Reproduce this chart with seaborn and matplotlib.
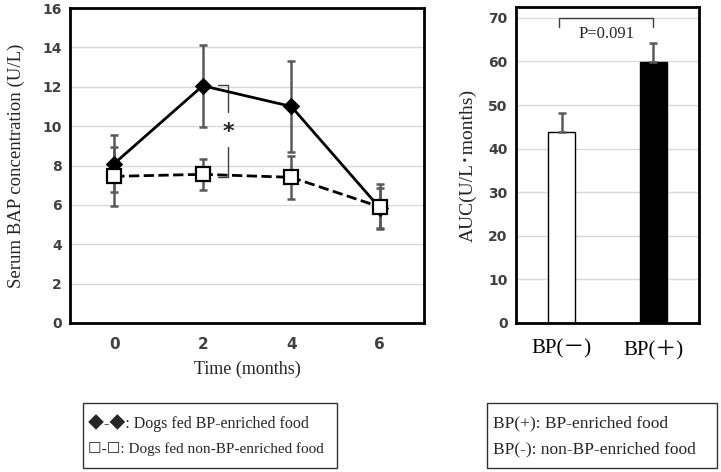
import matplotlib
matplotlib.use("Agg")
import matplotlib.pyplot as plt
import numpy as np
import pandas as pd
import seaborn as sns
from matplotlib.patches import Rectangle

# data
months = [0, 2, 4, 6]
bp_mean = [8.1, 12.05, 11.0, 5.85]
bp_err = [1.45, 2.08, 2.3, 1.0]
non_mean = [7.45, 7.55, 7.4, 5.9]
non_err = [1.5, 0.78, 1.08, 1.15]

groups = ["BP(－)", "BP(＋)"]
auc_mean = [43.8, 59.8]
auc_err = [4.4, 4.4]

sns.set_theme(style="white")
serif = ["Liberation Serif", "Noto Sans CJK JP", "DejaVu Sans"]
serif_sym = ["Liberation Serif", "DejaVu Sans"]


def style_ticks(labels, size=10):
    for lab in labels:
        lab.set_fontfamily("DejaVu Sans")
        lab.set_fontsize(size)
        lab.set_color("#404040")
        lab.set_fontweight("bold")


fig = plt.figure(figsize=(7.21, 4.72), dpi=100)
ax1 = fig.add_axes([70/721, 1-323/472, 354/721, 315/472])
ax2 = fig.add_axes([516/721, 1-323/472, 183/721, 316/472])

# ---- line chart
df = pd.DataFrame({"month": months * 2,
                   "value": bp_mean + non_mean,
                   "group": ["BP"] * 4 + ["non"] * 4})
ax1.errorbar(months, bp_mean, yerr=bp_err, fmt="none", ecolor="#595959",
             elinewidth=1.8, capsize=3, capthick=1.8, zorder=2)
ax1.errorbar(months, non_mean, yerr=non_err, fmt="none", ecolor="#595959",
             elinewidth=1.8, capsize=3, capthick=1.8, zorder=2)
sns.lineplot(data=df[df.group == "BP"], x="month", y="value", ax=ax1,
             color="black", lw=2, marker="D", markersize=8,
             markerfacecolor="black", markeredgecolor="black", zorder=3)
sns.lineplot(data=df[df.group == "non"], x="month", y="value", ax=ax1,
             color="black", lw=2, linestyle="--", marker="s", markersize=10,
             markerfacecolor="white", markeredgecolor="black",
             markeredgewidth=1.6, zorder=4)

ax1.set_xlim(-1, 7)
ax1.set_ylim(0, 16)
ax1.set_yticks(range(0, 17, 2))
ax1.set_xticks(months)
ax1.yaxis.grid(True, color="#d9d9d9", lw=1)
ax1.set_axisbelow(True)
ax1.tick_params(length=0, pad=6)
ax1.tick_params(axis="x", pad=10)
style_ticks(ax1.get_yticklabels())
style_ticks(ax1.get_xticklabels(), 11)
ax1.set_xlabel("Time (months)", family=serif, fontsize=13, labelpad=6)
ax1.set_ylabel("Serum BAP concentration (U/L)", family=serif, fontsize=13.5, labelpad=12)

# significance bracket at month 2
ax1.plot([2.34, 2.57, 2.57], [12.1, 12.1, 10.7], color="#404040", lw=1)
ax1.plot([2.57, 2.57, 2.34], [8.95, 7.4, 7.4], color="#404040", lw=1)
ax1.text(2.57, 9.7, "*", ha="center", va="center", fontsize=16,
         fontweight="bold", family="DejaVu Sans")

# ---- bar chart
bdf = pd.DataFrame({"group": groups, "auc": auc_mean})
sns.barplot(data=bdf, x="group", y="auc", hue="group",
            palette=["white", "black"], edgecolor="black", linewidth=1,
            width=0.3, legend=False, ax=ax2)
ax2.errorbar([0, 1], auc_mean, yerr=[[0, 0], auc_err], fmt="none",
             ecolor="#595959", elinewidth=1.8, capsize=3, capthick=1.8)
ax2.set_xlim(-0.5, 1.5)
ax2.set_ylim(0, 72.5)
ax2.set_yticks(range(0, 71, 10))
ax2.yaxis.grid(True, color="#d9d9d9", lw=1)
ax2.set_axisbelow(True)
ax2.tick_params(length=0, pad=6)
ax2.tick_params(axis="x", pad=12)
style_ticks(ax2.get_yticklabels())
for lab in ax2.get_xticklabels():
    lab.set_fontfamily(serif)
    lab.set_fontsize(15)
    lab.set_color("black")
ax2.set_xlabel("")
ax2.set_ylabel("AUC(U/L･months)", family=serif, fontsize=14, labelpad=8)
ax2.plot([-0.03, -0.03, 1.0, 1.0], [67.9, 70, 70, 67.9], color="#404040", lw=1)
ax2.text(0.49, 66.3, "P=0.091", ha="center", va="center", family=serif, fontsize=12)

for ax in (ax1, ax2):
    for s in ax.spines.values():
        s.set_color("black")
        s.set_linewidth(2)

# ---- text legends below
fig.patches.append(Rectangle((83/721, 1-468/472), 254/721, 65/472,
                             transform=fig.transFigure, fill=False,
                             edgecolor="#333333", lw=1))
fig.patches.append(Rectangle((487/721, 1-468/472), 230/721, 65/472,
                             transform=fig.transFigure, fill=False,
                             edgecolor="#333333", lw=1))
fig.text(88/721, 1-423/472, "◆-◆: Dogs fed BP-enriched food",
         family=serif, fontsize=11.5, va="center")
fig.text(88/721, 1-449/472, "☐-☐: Dogs fed non-BP-enriched food",
         family=serif_sym, fontsize=11, va="center")
fig.text(493/721, 1-423/472, "BP(+): BP-enriched food",
         family=serif, fontsize=12.5, va="center")
fig.text(493/721, 1-449/472, "BP(-): non-BP-enriched food",
         family=serif, fontsize=12.5, va="center")

fig.savefig("out.png", dpi=100)
